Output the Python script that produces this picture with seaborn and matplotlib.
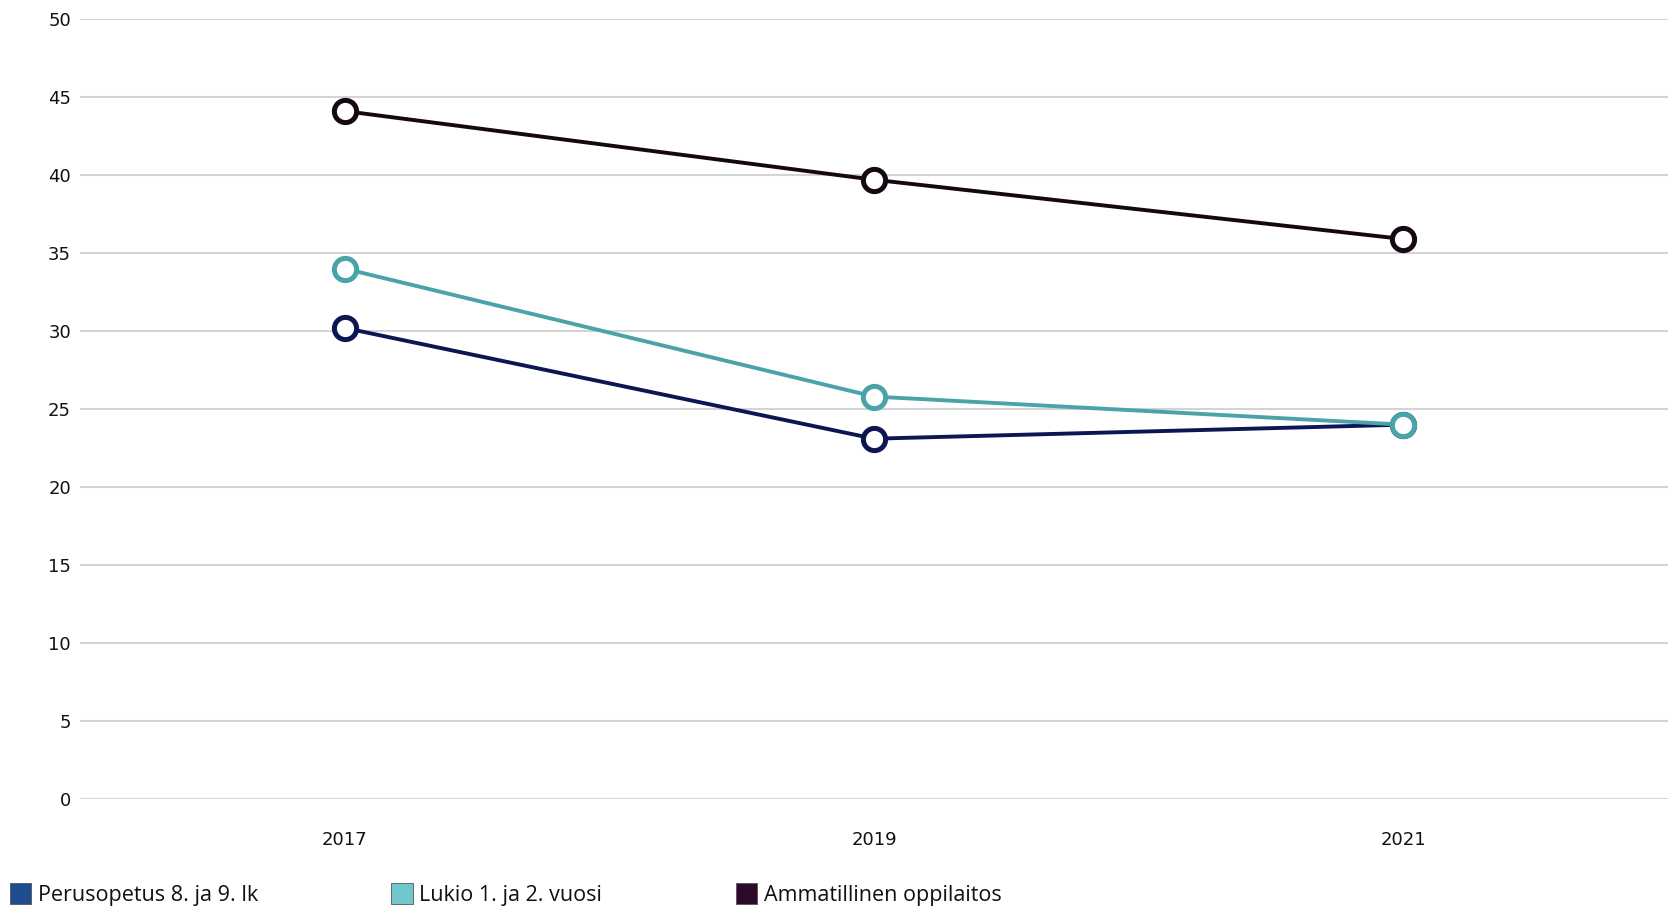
import pandas as pd
import matplotlib.pyplot as plt
import seaborn as sns
from matplotlib.patches import Patch

# Data
years = [2017, 2019, 2021]
perusopetus = [30.2, 23.1, 24.0]
lukio = [34.0, 25.8, 24.0]
ammatillinen = [44.1, 39.7, 35.9]

series_names = ["Perusopetus 8. ja 9. lk", "Lukio 1. ja 2. vuosi", "Ammatillinen oppilaitos"]
line_colors = ["#0c1650", "#4ba3aa", "#150812"]
legend_colors = ["#1d4d8f", "#6fc6cc", "#2b0a2c"]

df = pd.DataFrame({
    "year": years * 3,
    "value": perusopetus + lukio + ammatillinen,
    "series": [series_names[0]] * 3 + [series_names[1]] * 3 + [series_names[2]] * 3,
})

sns.set_style("white")
plt.rcParams["font.family"] = ["Open Sans", "DejaVu Sans"]

fig = plt.figure(figsize=(16.68, 9.08), dpi=100)
ax = fig.add_axes([0.048, 0.12, 0.952, 0.859])

palette = dict(zip(series_names, line_colors))
sns.lineplot(data=df, x="year", y="value", hue="series", hue_order=series_names,
             palette=palette, linewidth=2.8,
             marker="o", markersize=16, markerfacecolor="white", markeredgewidth=3.6,
             legend=False, ax=ax, zorder=3)
for line, name in zip(ax.get_lines(), series_names):
    line.set_markeredgecolor(palette[name])

ax.set_xlim(2016, 2022)
ax.set_ylim(0, 50)
ax.set_yticks(range(0, 51, 5))
ax.set_xticks(years)
ax.set_xlabel("")
ax.set_ylabel("")
ax.grid(axis="y", color="#d4d4d4", linewidth=1.5)
ax.set_axisbelow(True)
for s in ["top", "right", "left"]:
    ax.spines[s].set_visible(False)
ax.spines["bottom"].set_position(("outward", 10))
ax.spines["bottom"].set_visible(False)
ax.tick_params(axis="y", length=0, labelsize=13, pad=6.5, colors="#111111")
ax.tick_params(axis="x", length=7, width=1, color="#bbbbbb", labelsize=13, pad=6, labelcolor="#111111")
for lbl in ax.get_xticklabels() + ax.get_yticklabels():
    lbl.set_fontfamily("DejaVu Sans")

handles = [Patch(facecolor=c, edgecolor="#555555", linewidth=0.6) for c in legend_colors]
fig.legend(handles, series_names, loc="lower left", bbox_to_anchor=(-0.002, -0.012), ncol=3,
           frameon=False, fontsize=15.5, handlelength=1.0, handleheight=1.1,
           handletextpad=0.3, columnspacing=6.2, borderaxespad=0.2, labelcolor="#111111")

fig.savefig("out.png", dpi=100)
